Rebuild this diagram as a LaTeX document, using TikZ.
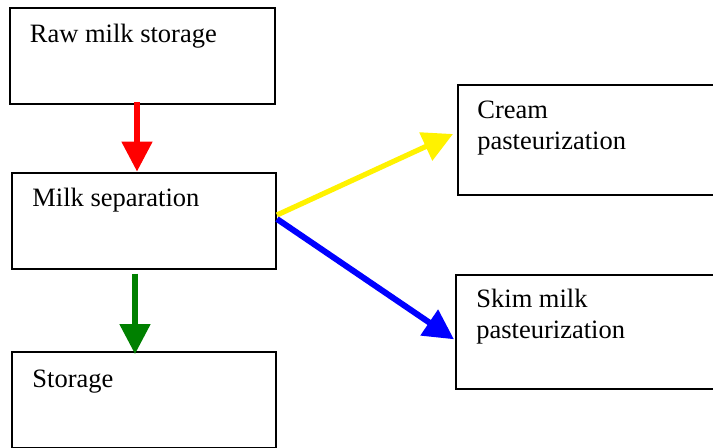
\documentclass[tikz,border=0pt]{standalone}
\usepackage{fontspec}
\setmainfont{Liberation Serif}
\usetikzlibrary{arrows.meta}
\usetikzlibrary{positioning}
\tikzset{box/.style = {draw, line width=1pt, anchor=north west, inner sep=0pt},
         txt/.style = {anchor=base west, align=left, inner sep=0pt,
                       font=\fontsize{13.25}{15.5}\selectfont},
         flow/.style = {line width=2.6pt,
                        -{Triangle[width=15pt,length=15pt]}}}

\begin{document}
\begin{tikzpicture}[x=0.5pt, y=-0.5pt]
    \useasboundingbox (0, 0) rectangle (713, 447);
    \clip (0, 0) rectangle (713, 447);
    % process boxes
    \node [box, minimum width=132.5pt, minimum height=48pt] (raw) at (8.5, 7) {};
    \node [box, minimum width=132pt, minimum height=48pt] (sep) at (11, 171.5) {};
    \node [box, minimum width=132pt, minimum height=48pt] (store) at (11, 351) {};
    \node [box, minimum width=135pt, minimum height=55pt] (cream) at (457, 83.5) {};
    \node [box, minimum width=136pt, minimum height=57pt] (skim) at (455, 273.5) {};
    % box texts (base of a two-line text is its last line)
    \node [txt] (rawtxt) at ([shift={(10.5pt,-17.5pt)}]raw.north west) {Raw milk storage};
    \node [txt] (septxt) at ([shift={(10.5pt,-17.5pt)}]sep.north west) {Milk separation};
    \node [txt] (storetxt) at ([shift={(10.5pt,-18pt)}]store.north west) {Storage};
    \node [txt] (creamtxt) at ([shift={(10pt,-33pt)}]cream.north west) {Cream\\ pasteurization};
    \node [txt] (skimtxt) at ([shift={(10.5pt,-32.5pt)}]skim.north west) {Skim milk\\ pasteurization};
    % flows
    \draw [flow, red] ([xshift=-2.5pt, yshift=1.5pt]raw.south) -- ([xshift=-3.5pt]sep.north);
    \draw [flow, green!50!black] ([xshift=-4.5pt, yshift=-2pt]sep.south) -- ([xshift=-4.5pt, yshift=-1.5pt]store.north);
    \draw [flow, yellow] ([yshift=2.75pt]sep.east) -- ([xshift=-2pt, yshift=2.75pt]cream.west);
    \draw [flow, blue, line width=3pt] ([yshift=0.75pt]sep.east) -- ([xshift=-0.5pt, yshift=-3.9pt]skim.west);
\end{tikzpicture}
\end{document}
